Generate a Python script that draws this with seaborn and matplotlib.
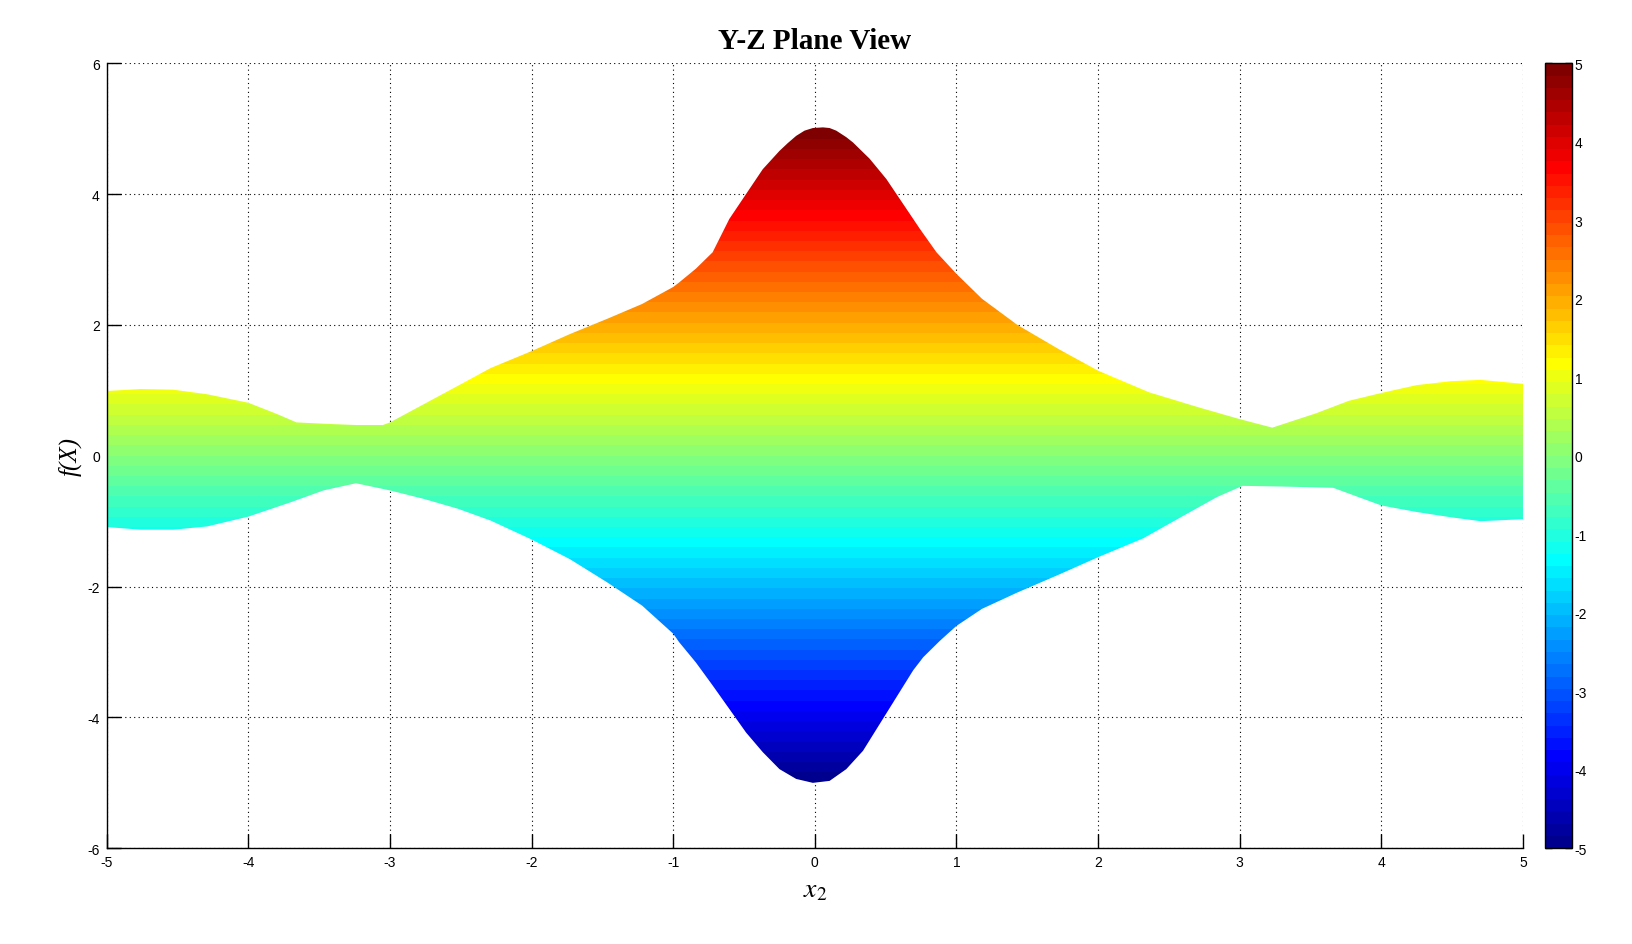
import numpy as np
import matplotlib
matplotlib.use("Agg")
import matplotlib.pyplot as plt
import seaborn as sns
from matplotlib.colors import Normalize, ListedColormap
from matplotlib.cm import ScalarMappable

# ---- data (upper and lower envelope of the Y-Z projection) ----
x_upper = [-5.0, -4.76, -4.53, -4.29, -4.0, -3.8, -3.66, -3.47, -3.24, -3.05, -3.0,
           -2.76, -2.52, -2.29, -2.0, -1.73, -1.47, -1.22, -1.0, -0.958, -0.84, -0.722,
           -0.604, -0.486, -0.368, -0.25, -0.191, -0.132, -0.073, -0.014, 0.057, 0.104,
           0.151, 0.222, 0.269, 0.387, 0.505, 0.623, 0.741, 0.859, 1.0, 1.18, 1.43,
           1.73, 2.0, 2.36, 2.71, 3.0, 3.23, 3.54, 3.77, 4.0, 4.25, 4.49, 4.7, 5.0]
y_upper = [0.99, 1.02, 1.01, 0.94, 0.81, 0.64, 0.51, 0.49, 0.47, 0.47, 0.51,
           0.79, 1.07, 1.34, 1.60, 1.86, 2.09, 2.32, 2.58, 2.65, 2.86, 3.11,
           3.62, 4.00, 4.38, 4.66, 4.78, 4.89, 4.97, 5.01, 5.02, 5.01,
           4.97, 4.87, 4.79, 4.54, 4.23, 3.85, 3.47, 3.11, 2.78, 2.40, 2.00,
           1.62, 1.30, 0.97, 0.74, 0.56, 0.43, 0.65, 0.84, 0.96, 1.08, 1.14, 1.16, 1.10]

x_lower = [-5.0, -4.76, -4.53, -4.29, -4.0, -3.7, -3.47, -3.24, -3.0, -2.76, -2.52,
           -2.29, -2.0, -1.73, -1.47, -1.22, -1.0, -0.958, -0.84, -0.722, -0.604, -0.486,
           -0.368, -0.25, -0.132, -0.014, 0.104, 0.222, 0.34, 0.458, 0.576, 0.694, 0.765,
           0.882, 1.0, 1.18, 1.43, 1.73, 2.0, 2.32, 2.60, 2.84, 3.02, 3.30, 3.66, 4.0,
           4.25, 4.49, 4.7, 5.0]
y_lower = [-1.09, -1.13, -1.13, -1.08, -0.93, -0.71, -0.53, -0.42, -0.53, -0.66, -0.81,
           -0.99, -1.28, -1.58, -1.93, -2.29, -2.72, -2.85, -3.16, -3.51, -3.87, -4.23,
           -4.53, -4.79, -4.94, -5.00, -4.97, -4.79, -4.51, -4.10, -3.69, -3.28, -3.08,
           -2.83, -2.60, -2.34, -2.09, -1.81, -1.55, -1.26, -0.92, -0.63, -0.46, -0.47, -0.49, -0.76,
           -0.86, -0.94, -1.00, -0.97]

x_ticks = [-5, -4, -3, -2, -1, 0, 1, 2, 3, 4, 5]
y_ticks = [-6, -4, -2, 0, 2, 4, 6]
cbar_ticks = [-5, -4, -3, -2, -1, 0, 1, 2, 3, 4, 5]
c_min, c_max = -5, 5

title_text = "Y-Z Plane View"
xlabel_text = "$x_2$"
ylabel_text = "f(X)"

# ---- style ----
sns.set_style("white")
plt.rcParams["font.family"] = ["Liberation Sans", "DejaVu Sans"]
plt.rcParams["axes.unicode_minus"] = False
plt.rcParams["mathtext.fontset"] = "stix"
for key in ["text.color", "axes.labelcolor", "xtick.color", "ytick.color"]:
    plt.rcParams[key] = "black"

# MATLAB-style jet(64) colormap
m, n = 64, 16
u = np.concatenate([np.arange(1, n + 1) / n, np.ones(n - 1), np.arange(n, 0, -1) / n])
g = 8 + np.arange(1, len(u) + 1)
r = g + n
b = g - n
jet_rgb = np.zeros((m, 3))
jet_rgb[r[r <= m] - 1, 0] = u[r <= m]
jet_rgb[g[g <= m] - 1, 1] = u[g <= m]
jet_rgb[b[b >= 1] - 1, 2] = u[b >= 1]
cmap = ListedColormap(jet_rgb)
norm = Normalize(vmin=c_min, vmax=c_max)

fig = plt.figure(figsize=(16.32, 9.45), dpi=100)
ax = fig.add_axes([0.0654, 0.1013, 0.8678, 0.8307])
cax = fig.add_axes([0.9467, 0.1013, 0.0165, 0.8307])

# polygon of the projected surface
poly_x = np.concatenate([x_upper, x_lower[::-1]])
poly_y = np.concatenate([y_upper, y_lower[::-1]])
patch = ax.fill(poly_x, poly_y, facecolor="none", edgecolor="none", zorder=2)[0]

# colour field by f(X) value, clipped to the polygon
field = np.linspace(c_min - 0.2, c_max + 0.2, 800).reshape(-1, 1)
img = ax.imshow(field, cmap=cmap, norm=norm, origin="lower", aspect="auto",
                extent=[-5, 5, c_min - 0.2, c_max + 0.2], interpolation="nearest",
                zorder=2)
img.set_clip_path(patch)

ax.set_xlim(-5, 5)
ax.set_ylim(-6, 6)
ax.set_xticks(x_ticks)
ax.set_yticks(y_ticks)
ax.set_axisbelow(True)
ax.grid(True, color="black", linestyle=(0, (1, 3)), linewidth=0.8)
for side in ["top", "right"]:
    ax.spines[side].set_visible(False)
for side in ["left", "bottom"]:
    ax.spines[side].set_color("black")
    ax.spines[side].set_linewidth(1.0)
ax.tick_params(direction="in", length=10, width=1, labelsize=10, colors="black",
               bottom=True, left=True, pad=5)

ax.set_title(title_text, fontsize=21, fontweight="bold", family="Liberation Serif",
             pad=11, color="black")
ax.set_xlabel(xlabel_text, fontsize=20, labelpad=5)
ax.set_ylabel(ylabel_text, fontsize=18, fontstyle="italic", family="Liberation Serif", labelpad=4)

cb = fig.colorbar(ScalarMappable(norm=norm, cmap=cmap), cax=cax, ticks=cbar_ticks)
cb.outline.set_linewidth(1.0)
cb.outline.set_edgecolor("black")
cax.tick_params(direction="in", left=True, right=True, length=5, width=1,
                labelsize=10, pad=2, colors="black")

fig.savefig("out.png", dpi=100, facecolor="white")
